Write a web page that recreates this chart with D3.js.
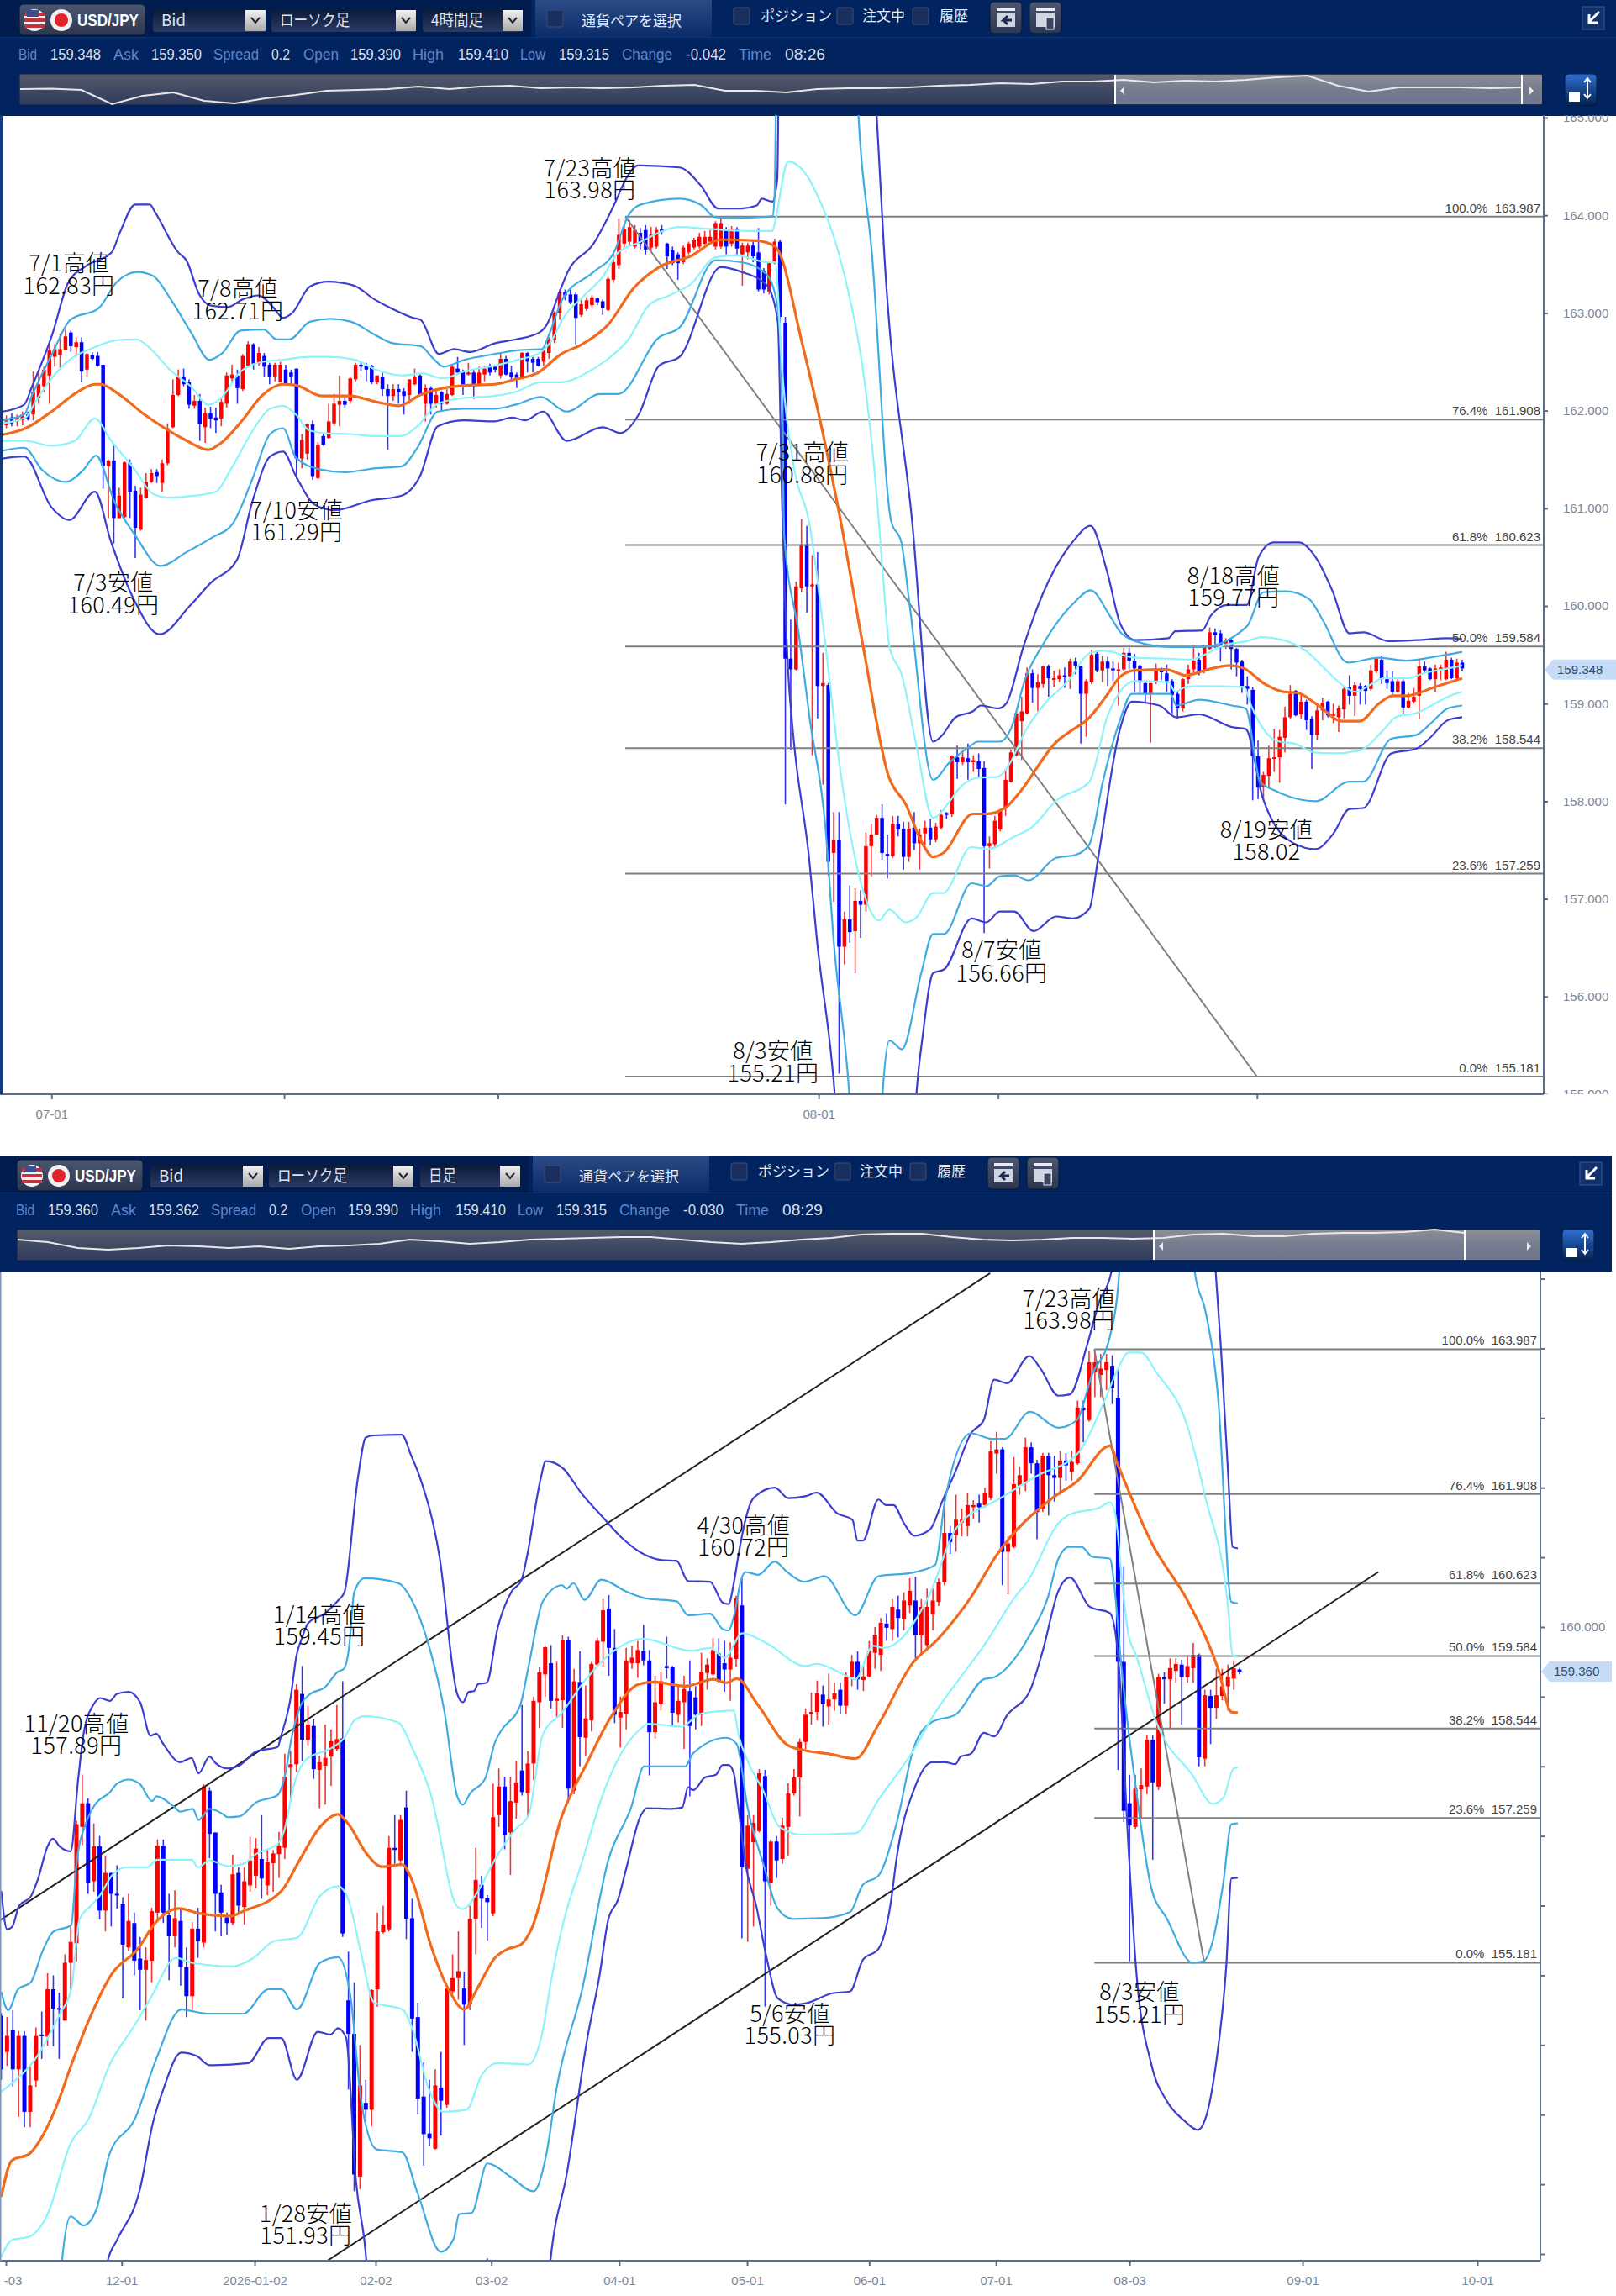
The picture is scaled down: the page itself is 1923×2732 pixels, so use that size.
<!doctype html>
<html>
<head>
<meta charset="utf-8">
<style>
  body { margin: 0; background: #fff; }
  svg { display: block; }
  text { font-family: "Liberation Sans", sans-serif; }
  .note { font-family: "Noto Sans CJK JP", sans-serif; font-size: 27px; fill: #000; text-anchor: middle; letter-spacing: 0.4px; font-weight: 300; }
  .jp { font-family: "Noto Sans CJK JP", sans-serif; }
  .tick text { font-size: 15px; fill: #7a8798; }
  .tick line { stroke: #5d6b8f; stroke-width: 2; }
</style>
<script src="https://d3js.org/d3.v7.min.js"></script>
</head>
<body>
<svg width="1923" height="2732"></svg>
<script>
// ---- 4 hour chart: open, high, low, close per candle
const h4Ohlc = [
[161.82,161.90,161.79,161.87],[161.85,161.95,161.82,161.90],[161.93,161.97,161.84,161.87],[161.89,161.96,161.84,161.93],[161.90,161.99,161.85,161.96],[161.96,161.99,161.90,161.92],
[161.96,162.40,161.90,162.19],[162.13,162.40,162.07,162.27],[162.25,162.45,162.19,162.42],[162.36,162.68,162.07,162.62],[162.55,162.68,162.45,162.63],[162.57,162.79,162.42,162.63],
[162.62,162.83,162.62,162.76],[162.80,162.82,162.60,162.66],[162.65,162.75,162.56,162.70],[162.70,162.75,162.29,162.40],[162.42,162.59,162.35,162.58],[162.57,162.60,162.52,162.53],
[162.56,162.60,162.45,162.46],[162.47,162.47,161.20,161.43],[161.43,161.50,160.90,161.49],[161.49,161.64,160.64,160.90],[160.90,161.21,160.90,161.13],[160.91,161.48,160.90,161.47],
[161.46,161.50,160.90,161.17],[161.18,161.23,160.49,160.80],[160.78,161.21,160.77,161.14],[161.11,161.36,161.10,161.27],[161.27,161.40,161.26,161.36],[161.37,161.40,161.26,161.33],
[161.26,161.50,161.17,161.46],[161.46,161.87,161.44,161.82],[161.83,162.32,161.82,162.16],[162.16,162.42,162.15,162.35],[162.35,162.43,162.25,162.27],[162.29,162.32,162.02,162.06],
[162.05,162.16,162.02,162.10],[162.10,162.17,161.69,161.86],[161.83,162.03,161.67,161.97],[161.97,162.04,161.82,161.92],[161.93,162.03,161.77,161.90],[161.92,162.13,161.84,162.09],
[162.07,162.39,162.03,162.36],[162.33,162.47,162.30,162.37],[162.36,162.42,162.07,162.23],[162.22,162.58,162.20,162.56],[162.46,162.71,162.45,162.68],[162.68,162.69,162.42,162.48],
[162.48,162.65,162.46,162.59],[162.56,162.59,162.35,162.45],[162.47,162.49,162.27,162.35],[162.35,162.49,162.30,162.47],[162.29,162.50,162.29,162.47],[162.42,162.47,162.27,162.27],
[162.39,162.42,162.27,162.35],[162.43,162.43,161.30,161.51],[161.51,161.76,161.41,161.70],[161.56,161.87,161.50,161.86],[161.86,161.90,161.29,161.33],[161.31,161.68,161.30,161.65],
[161.74,161.77,161.64,161.65],[161.72,162.07,161.71,161.89],[161.87,162.17,161.84,162.07],[162.06,162.36,161.84,162.10],[162.10,162.14,162.03,162.06],[162.10,162.35,162.07,162.33],
[162.32,162.49,162.30,162.47],[162.47,162.50,162.40,162.45],[162.46,162.49,162.30,162.42],[162.46,162.47,162.27,162.29],[162.29,162.36,162.27,162.36],[162.35,162.39,162.15,162.22],
[162.22,162.27,161.60,162.15],[162.15,162.27,162.10,162.22],[162.22,162.27,162.07,162.19],[162.20,162.23,161.96,162.15],[162.16,162.32,162.07,162.32],[162.27,162.43,162.26,162.35],
[162.36,162.38,162.16,162.16],[162.07,162.27,161.89,162.23],[162.23,162.25,161.96,162.07],[162.07,162.20,162.03,162.16],[162.19,162.20,161.99,162.07],[162.07,162.22,162.06,162.17],
[162.16,162.46,162.15,162.45],[162.43,162.55,162.37,162.39],[162.40,162.42,162.16,162.27],[162.37,162.49,162.36,162.39],[162.39,162.42,162.12,162.27],[162.27,162.45,162.27,162.39],
[162.37,162.46,162.30,162.43],[162.45,162.48,162.36,162.39],[162.45,162.47,162.39,162.42],[162.36,162.59,162.33,162.53],[162.53,162.56,162.36,162.37],[162.39,162.46,162.32,162.35],
[162.37,162.39,162.23,162.33],[162.33,162.60,162.33,162.59],[162.59,162.60,162.39,162.50],[162.53,162.55,162.39,162.49],[162.53,162.55,162.45,162.46],[162.50,162.63,162.46,162.62],
[162.59,162.75,162.53,162.73],[162.72,163.02,162.69,163.00],[163.00,163.24,162.93,163.21],[163.21,163.24,163.13,163.18],[163.19,163.24,163.09,163.11],[163.19,163.21,162.68,162.95],
[162.98,163.13,162.96,163.09],[163.04,163.16,163.02,163.13],[163.08,163.18,163.06,163.16],[163.15,163.16,163.08,163.11],[163.12,163.14,162.98,163.05],[163.03,163.37,163.02,163.35],
[163.34,163.62,163.31,163.52],[163.49,163.97,163.45,163.80],
[163.71,163.93,163.66,163.86],[163.73,163.95,163.69,163.88],[163.68,163.90,163.66,163.85],[163.82,163.87,163.65,163.71],[163.85,163.90,163.60,163.65],[163.67,163.88,163.63,163.80],
[163.68,163.88,163.66,163.85],[163.86,163.90,163.80,163.83],[163.71,163.72,163.45,163.58],[163.64,163.68,163.49,163.51],[163.60,163.62,163.34,163.51],[163.52,163.69,163.50,163.67],
[163.62,163.73,163.60,163.71],[163.67,163.77,163.65,163.75],[163.68,163.82,163.66,163.78],[163.71,163.84,163.70,163.78],[163.73,163.85,163.70,163.78],[163.68,163.94,163.65,163.92],
[163.68,163.97,163.66,163.92],[163.85,163.88,163.60,163.68],[163.71,163.89,163.68,163.86],[163.86,163.88,163.60,163.66],[163.60,163.72,163.28,163.69],[163.62,163.72,163.55,163.69],
[163.69,163.75,163.52,163.58],[163.62,163.87,163.22,163.24],[163.43,163.46,163.20,163.24],[163.22,163.53,163.19,163.51],[163.51,163.76,163.50,163.73],[163.73,163.75,162.90,162.96],
[162.90,162.96,157.97,159.46],[159.46,159.86,158.52,159.35],[159.35,160.25,159.34,160.20],[160.18,160.89,160.14,160.63],[160.63,160.82,159.93,160.20],[160.20,160.52,158.47,160.22],
[160.22,160.55,158.85,159.18],[159.18,159.52,158.17,159.21],[159.19,159.21,157.24,157.38],[157.47,157.89,156.97,157.60],[157.60,157.89,155.21,156.51],[156.51,156.87,156.33,156.79],
[156.79,157.14,156.55,156.66],[156.67,157.11,156.24,156.98],[156.98,157.09,156.60,156.94],[156.94,157.68,156.87,157.54],[157.54,157.77,157.23,157.66],[157.66,157.86,157.66,157.83],
[157.83,157.97,157.40,157.47],[157.46,157.66,157.21,157.44],[157.44,157.85,157.42,157.77],[157.77,157.85,157.64,157.71],[157.72,157.79,157.30,157.43],[157.43,157.79,157.38,157.72],
[157.73,157.89,157.50,157.57],[157.57,157.72,157.30,157.66],[157.67,157.80,157.55,157.73],[157.73,157.82,157.55,157.61],[157.61,157.78,157.58,157.74],[157.73,157.91,157.71,157.86],
[157.88,157.89,157.82,157.86],[157.87,158.47,157.84,158.46],[158.45,158.57,158.23,158.40],[158.40,158.50,158.37,158.45],[158.44,158.59,158.22,158.40],[158.40,158.47,158.30,158.42],
[158.41,158.49,158.25,158.33],[158.34,158.41,156.65,157.54],[157.54,157.64,157.31,157.57],[157.56,157.85,157.53,157.80],[157.71,157.92,157.69,157.90],[157.93,158.33,157.85,158.22],
[158.20,158.53,158.19,158.50],[158.47,158.92,158.46,158.90],[158.82,159.07,158.42,158.92],[158.90,159.37,158.89,159.31],[159.31,159.35,159.01,159.16],[159.16,159.30,158.92,159.22],
[159.20,159.39,159.16,159.38],[159.38,159.40,159.07,159.26],[159.25,159.34,159.17,159.26],[159.25,159.35,159.22,159.29],[159.29,159.37,159.16,159.28],[159.28,159.46,159.15,159.43],
[159.43,159.47,159.30,159.39],[159.38,159.39,158.59,159.10],[159.10,159.25,158.66,159.23],[159.22,159.55,159.20,159.50],[159.51,159.53,159.32,159.34],[159.34,159.49,159.22,159.43],
[159.43,159.48,159.18,159.36],[159.36,159.43,159.23,159.34],[159.34,159.42,158.98,159.35],[159.35,159.57,159.34,159.52],[159.52,159.57,159.35,159.44],
[159.44,159.51,159.12,159.36],[159.39,159.40,159.11,159.22],[159.21,159.23,159.01,159.10],[159.10,159.21,158.60,159.21],[159.23,159.41,159.20,159.36],[159.36,159.37,159.24,159.32],
[159.31,159.40,159.12,159.23],[159.23,159.25,158.90,159.09],[159.10,159.12,158.84,158.95],[158.95,159.26,158.92,159.25],[159.25,159.40,159.20,159.35],[159.35,159.60,159.32,159.44],
[159.45,159.52,159.29,159.33],[159.33,159.60,159.31,159.58],[159.56,159.78,159.55,159.73],[159.73,159.77,159.57,159.70],[159.72,159.75,159.43,159.58],[159.61,159.67,159.56,159.65],
[159.65,159.67,159.35,159.56],[159.56,159.57,159.28,159.42],[159.43,159.45,159.11,159.18],[159.18,159.28,158.99,159.15],[159.14,159.17,158.01,158.46],[158.46,158.62,158.02,158.14],
[158.15,158.30,158.02,158.27],[158.26,158.57,158.15,158.44],[158.44,158.74,158.30,158.45],[158.45,158.73,158.19,158.66],[158.65,158.97,158.50,158.86],[158.86,159.19,158.84,159.10],
[159.13,159.14,158.87,158.88],[158.89,159.10,158.84,159.02],[159.02,159.04,158.73,158.83],[158.84,158.87,158.33,158.68],[158.68,159.00,158.63,158.93],[158.93,159.06,158.83,159.01],
[159.02,159.03,158.86,158.88],[158.88,159.00,158.80,158.89],[158.86,158.98,158.71,158.95],[158.94,159.17,158.85,159.15],[159.17,159.29,158.99,159.08],[159.08,159.22,158.87,159.19],
[159.18,159.21,158.99,159.15],[159.18,159.19,158.99,159.13],[159.15,159.40,159.13,159.34],[159.33,159.47,159.31,159.46],[159.45,159.49,159.20,159.25],[159.25,159.34,159.15,159.21],
[159.23,159.33,159.08,159.12],[159.12,159.27,159.11,159.23],[159.23,159.25,158.89,158.96],[158.96,159.11,158.95,159.03],[159.02,159.16,159.00,159.07],[159.08,159.45,158.84,159.38],
[159.38,159.43,159.31,159.34],[159.36,159.37,159.24,159.25],[159.25,159.40,159.12,159.36],[159.35,159.40,159.24,159.37],[159.25,159.53,159.24,159.45],[159.45,159.47,159.25,159.26],
[159.26,159.46,159.25,159.42],[159.42,159.45,159.33,159.36]
];
// band curves as [candle index, price]
const h4Mid = [[0,161.75],[4.6,161.82],[9.4,161.99],[14.2,162.19],[17.5,162.27],[18.5,162.27],[21.9,162.17],[26.7,161.96],[30.5,161.82],[34.3,161.70],[38.6,161.60],[41,161.67],[44.9,161.90],[48.7,162.16],[52.5,162.27],[54.9,162.26],[59.7,162.15],[65,162.15],[69.8,162.09],[74.1,162.05],[78,162.16],[82.3,162.23],[87.1,162.26],[91.9,162.27],[95.7,162.32],[100,162.39],[104.3,162.58],[108.2,162.68],[113,162.88],[117.7,163.25],[122.5,163.47],[128.3,163.58],[134,163.75],[140.8,163.74],[144.1,163.68],[149.3,162.65],[156.3,160.87],[160.5,159.58],[165.2,158.26],[168.4,157.97],[171.5,157.57],[173.5,157.43],[175.4,157.47],[180.9,157.87],[183.4,157.87],[187.1,157.94],[189.6,158.09],[196.5,158.61],[199.7,158.74],[202.1,158.83],[205.9,159.09],[208.4,159.28],[211.1,159.34],[216.9,159.35],[220.5,159.29],[224.7,159.35],[228.8,159.39],[231.4,159.36],[235,159.21],[238.8,159.12],[241.3,159.11],[245,158.99],[249.7,158.82],[252.9,158.82],[256.5,159.00],[259.1,159.08],[261.6,159.08],[266.9,159.17],[272,159.26]];
const h4Up1 = [[0,161.87],[4.6,161.93],[6.5,162.10],[9.4,162.33],[12.3,162.50],[17.5,162.65],[21.4,162.72],[25.2,162.73],[28.1,162.62],[31.4,162.42],[35.3,162.25],[38.6,162.06],[41,162.13],[44.4,162.39],[48.7,162.50],[52.5,162.52],[57.3,162.55],[61.2,162.55],[65.9,162.52],[69.8,162.42],[74.6,162.36],[78.4,162.38],[82.3,162.33],[86.1,162.40],[91.9,162.46],[96.2,162.52],[100.5,162.60],[102.4,162.71],[104.8,162.96],[108.2,163.16],[112,163.37],[114.9,163.62],[118.7,163.72],[126.3,163.88],[132,163.86],[138.8,163.84],[143.6,163.84],[144,163.91],[146.5,164.55],[150.1,164.40],[152,164.20],[154,163.94],[155.9,163.62],[163.4,160.87],[164.2,160.29],[165.4,159.58],[167.7,159.29],[170.4,158.57],[173.5,157.83],[176.6,158.0],[178.2,158.12],[181.8,158.24],[185.6,158.25],[187.6,158.37],[190.7,158.72],[194.3,159.00],[198.6,159.23],[202.8,159.52],[205.3,159.54],[211.1,159.47],[217.3,159.46],[221.6,159.45],[223.6,159.49],[227.8,159.60],[231.9,159.64],[234.6,159.68],[240.3,159.62],[242.9,159.54],[247.1,159.32],[250.2,159.17],[252.2,159.12],[255.4,159.21],[257.3,159.26],[261.6,159.26],[265.4,159.32],[268.5,159.35],[272,159.39]];
const h4Up2 = [[0,161.90],[4.3,161.96],[5.8,162.16],[9.6,162.59],[12.9,162.93],[18.2,163.05],[21.6,163.32],[25.4,163.42],[28.3,163.38],[31.6,163.14],[35.5,162.79],[38.8,162.52],[41.2,162.59],[44.6,162.82],[48.9,162.83],[51.3,162.73],[53.7,162.73],[57.5,162.91],[61.4,162.94],[65.2,162.91],[69.5,162.78],[72.9,162.69],[78.1,162.66],[80.5,162.53],[82.4,162.45],[86.3,162.52],[92,162.58],[96.4,162.62],[100.7,162.63],[102.1,162.79],[104.5,163.14],[110.3,163.42],[114.1,163.62],[116.7,163.99],[119.1,164.11],[126.3,164.17],[130.2,164.11],[133,163.98],[136.9,163.97],[140.7,163.98],[143.6,163.99],[144,164.20],[144.8,168],[157.5,168],[159.6,165.03],[162.1,163.62],[165.7,160.87],[167.6,160.65],[169.1,160.03],[173.5,158.22],[176.6,158.40],[180.3,158.56],[181.8,158.61],[186,158.61],[187.9,158.73],[190.7,159.26],[193.9,159.60],[199.7,160.03],[202.8,160.16],[206.4,159.90],[208.4,159.73],[211.1,159.64],[217.8,159.58],[223.6,159.58],[231.9,159.79],[235,160.14],[239.2,160.15],[243.5,160.07],[246,159.86],[250.7,159.42],[256.5,159.47],[261.6,159.44],[266.9,159.48],[272,159.53]];
const h4Up3 = [[0.3,161.99],[4.3,162.06],[5.8,162.25],[9.6,162.79],[12.5,163.31],[15.8,163.48],[20.6,163.62],[22.1,163.82],[25,164.11],[27.7,164.11],[28.7,164.03],[33,163.62],[34.5,163.54],[36.9,163.19],[38.8,163.08],[42.2,163.06],[45,163.14],[47.9,163.18],[50.8,163.05],[52.5,162.95],[54.2,163.0],[57.5,163.27],[60.9,163.32],[65.7,163.28],[69.5,163.14],[72.9,163.04],[76.7,162.95],[78.1,162.93],[81.5,162.58],[84.4,162.63],[87.2,162.60],[92,162.69],[95.9,162.73],[100.2,162.80],[101.6,162.88],[104,163.22],[105.5,163.42],[110.3,163.71],[112.9,163.97],[114.4,164.14],[116.3,164.37],[118.6,164.51],[126.3,164.49],[130.2,164.31],[133.5,164.07],[137.8,164.07],[140.7,164.10],[141.6,164.17],[143.6,164.14],[144.5,164.37],[145.2,168],[158.6,168],[163,165.03],[164.4,163.62],[169.6,160.87],[173.5,158.61],[175.1,158.67],[177.7,158.86],[180.9,158.92],[182.4,158.98],[185.6,158.95],[187.1,159.00],[190.3,159.58],[193.9,160.12],[199.7,160.67],[202.8,160.82],[205.9,160.35],[208.4,159.81],[211.1,159.65],[217.3,159.67],[218.6,159.74],[223.6,159.75],[225.2,159.90],[228.3,160.01],[231.9,160.01],[234.1,160.50],[236.9,160.65],[241.6,160.65],[244.7,160.50],[247.8,160.16],[251,159.72],[253.6,159.73],[258.3,159.64],[263.5,159.65],[269.3,159.67],[272,159.66]];
const h4Low1 = [[0.3,161.69],[4.6,161.69],[9.4,161.64],[13.7,161.69],[17.5,161.92],[20.4,161.70],[24.7,161.41],[28.5,161.14],[31,161.11],[36.2,161.13],[40,161.17],[42.9,161.41],[46.8,161.79],[50.1,162.02],[52.5,162.05],[54.9,161.96],[57.3,161.80],[60.2,161.77],[65,161.76],[69.8,161.74],[74.6,161.74],[77.5,161.84],[81.3,162.07],[86.1,162.13],[91.9,162.15],[95.7,162.19],[100.5,162.29],[104.3,162.29],[109.1,162.39],[113,162.53],[116.8,162.73],[120.6,163.08],[124.4,163.18],[128.3,163.29],[133,163.57],[136.9,163.59],[142.6,163.52],[144.1,163.52],[145.4,162.42],[147.7,161.39],[150.4,160.87],[153.2,159.72],[156.3,158.29],[160.5,157.08],[163.4,156.78],[165.4,156.89],[168.4,156.76],[170.4,156.81],[173.5,157.06],[175.4,157.06],[180.6,157.53],[183.7,157.51],[188.7,157.64],[191.8,157.73],[196.5,158.01],[202.6,158.20],[205.9,158.86],[209,159.17],[211.1,159.23],[217.3,159.22],[218.6,159.12],[220.5,159.17],[223.6,159.18],[231.4,159.17],[232.7,158.98],[235.7,158.69],[238,158.61],[240.8,158.59],[244.4,158.50],[248.2,158.49],[252.9,158.52],[257.5,158.74],[259.6,158.86],[263.8,158.91],[266.9,159.00],[270.2,159.09],[272,159.12]];
const h4Low2 = [[0.3,161.59],[4.3,161.62],[7.7,161.39],[12,161.27],[15.3,161.39],[17.7,161.54],[21.1,161.07],[24.9,160.73],[29.7,160.41],[34.5,160.55],[39.3,160.70],[43.1,160.84],[46.8,161.30],[50.1,161.76],[52.5,161.82],[54.9,161.52],[59.2,161.40],[64,161.37],[69.8,161.41],[74.6,161.43],[77.5,161.62],[81.3,161.99],[86.1,162.02],[91.9,162.02],[95.7,162.06],[100.5,162.14],[105.3,161.99],[111.5,162.17],[114.9,162.17],[122.5,162.75],[126.3,162.85],[133,163.54],[137.9,163.52],[142.6,163.39],[144.6,163.05],[145.5,161.79],[145.8,160.72],[148.5,159.72],[150.5,158.86],[153.5,157.71],[155,156.57],[157.9,155],[159,154],[163.5,154],[164.1,155],[165.4,155.55],[167.7,155.46],[171.3,156.24],[173.5,156.64],[175.5,156.64],[180.7,157.16],[183.4,157.13],[185.9,157.23],[188.6,157.24],[191.2,157.19],[196.4,157.42],[200,157.45],[202.6,157.56],[205.1,158.20],[208.3,158.83],[210.5,159.10],[217.7,159.10],[218.8,158.98],[223,159.04],[229.1,158.98],[231.7,158.95],[234.4,158.20],[237.5,158.10],[244.7,158.0],[251,158.20],[253.6,158.20],[258.8,158.64],[263.5,158.68],[266.2,158.80],[269.3,158.95],[272,158.98]];
const h4Low3 = [[0.3,161.51],[4.3,161.53],[9.4,161.01],[12.7,160.88],[17.5,161.17],[20.4,160.67],[24.7,160.07],[29.5,159.71],[35.3,160.01],[39.1,160.24],[43.9,160.47],[46.8,161.07],[50.1,161.53],[52.5,161.58],[54.9,161.33],[58.3,161.04],[62.1,160.98],[68.8,161.08],[74.6,161.13],[78,161.33],[81.3,161.84],[86.1,161.90],[91.9,161.89],[95.2,161.93],[97.6,161.90],[100.9,161.99],[105.3,161.69],[112,161.83],[115.3,161.77],[118.7,161.96],[122.5,162.46],[126.3,162.55],[134,163.47],[137.9,163.42],[142.6,163.28],[144.6,162.91],[145.4,161.04],[146.5,159.35],[147.4,158.72],[150.4,157.43],[151.9,156.57],[155.2,155],[157,153.5],[169,153.5],[170.4,155],[171.6,155.61],[173.5,156.24],[175.6,156.28],[180.7,156.80],[183.4,156.76],[185.9,156.87],[188.6,156.87],[192.2,156.67],[196.4,156.82],[199.5,156.80],[202.6,156.90],[204.2,157.41],[208.3,158.74],[210.5,159.02],[215.6,158.98],[218.8,158.86],[223,158.89],[229.1,158.76],[231.7,158.74],[234.9,158.03],[240.6,157.57],[244.7,157.51],[247.9,157.66],[251,157.92],[253.6,157.93],[258.8,158.49],[263.5,158.54],[266.2,158.66],[269.3,158.83],[272,158.86]];
const h4Swing = [[116.2,163.987],[233.8,155.181]];
const h4TickIdx = [9.4,52.7,92.5,152.2,185.6,233.8];
const h4TickText = ["07-01","","","08-01","",""];

// ---- daily chart
const dayOhlc = [
[154.42,154.46,153.50,153.65],[153.90,154.40,153.70,154.13],[154.21,154.50,153.40,153.65],[153.65,154.20,152.97,154.13],[154.13,154.20,152.82,153.04],[153.04,153.70,152.82,153.42],[153.49,154.25,153.40,154.13],
[154.15,154.48,153.80,154.13],[154.12,155.03,153.99,154.80],[154.80,155.00,153.98,154.52],[154.53,154.75,153.80,154.51],[154.35,155.30,154.35,155.18],[155.18,155.70,154.80,155.48],[155.46,157.22,155.20,157.17],
[157.13,157.88,156.87,157.47],[157.47,157.54,156.17,156.33],[156.35,157.18,156.20,156.85],[156.85,157.00,155.80,155.93],[155.93,156.72,155.63,156.47],[156.47,156.47,155.70,156.17],[156.17,156.58,155.96,156.15],
[156.03,156.12,154.67,155.44],[155.40,156.17,155.35,155.78],[155.75,155.90,155.00,155.21],[155.24,155.55,154.50,155.08],[155.08,155.40,154.35,155.22],[155.21,155.97,154.90,155.92],[155.90,156.95,155.80,156.86],
[156.86,156.95,155.75,155.90],[155.86,156.17,154.93,155.56],[155.56,156.22,155.40,155.82],[155.78,155.97,154.85,155.12],[155.12,155.40,154.40,154.70],[154.70,155.76,154.50,155.67],[155.67,155.97,155.25,155.49],
[155.47,157.74,155.40,157.71],[157.65,157.70,156.68,157.03],[157.05,157.05,155.63,156.17],[156.19,156.30,155.56,155.90],[155.83,155.90,155.58,155.75],[155.75,156.73,155.72,156.45],[156.47,156.55,155.90,156.00],
[155.98,156.55,155.73,156.35],[156.29,156.99,156.20,156.65],[156.43,156.97,156.25,156.82],[156.67,157.30,156.10,156.39],[156.29,156.80,156.15,156.63],[156.61,156.80,156.20,156.75],[156.74,157.06,156.40,156.86],
[156.83,158.18,156.67,157.85],[157.98,158.22,157.50,158.03],[158.03,159.18,157.92,159.10],[159.04,159.44,158.07,158.38],[158.38,158.87,158.30,158.60],[158.58,158.68,157.82,157.96],[157.95,158.15,157.40,158.06],
[158.01,158.60,157.45,158.12],[158.14,158.53,157.72,158.36],[158.25,158.88,158.22,158.39],[158.40,159.22,155.55,155.60],[154.64,155.34,153.36,154.16],[154.16,154.90,151.90,152.14],[152.11,154.00,151.93,153.42],
[153.17,153.50,152.90,153.07],[153.07,154.80,152.83,154.79],[154.80,155.90,154.55,155.63],[155.62,156.00,155.60,155.73],[155.66,157.00,155.63,156.83],[156.83,157.30,156.60,156.80],[156.65,157.30,156.60,157.23],
[157.41,157.65,155.52,155.81],[155.82,156.10,153.90,154.38],[154.40,154.61,153.00,153.23],[153.26,153.75,152.27,152.72],[152.73,153.50,152.55,152.66],[152.51,153.65,152.50,153.42],[153.39,153.90,152.70,153.20],
[153.14,154.83,153.10,154.81],[154.77,155.30,154.73,154.96],[154.96,155.63,154.65,155.06],[154.81,155.05,154.00,154.58],[154.58,156.00,154.50,155.81],[155.81,156.83,155.30,156.37],[156.30,156.43,155.68,156.10],
[156.11,156.15,155.50,156.05],[155.89,157.75,155.85,157.27],[157.30,157.97,157.13,157.71],[157.71,157.85,156.81,157.02],[157.05,157.85,156.44,157.50],[157.48,158.08,157.25,157.77],[157.94,158.88,157.58,157.63],
[157.61,158.22,157.27,158.04],[158.04,159.00,157.80,158.94],[158.92,159.42,158.55,159.35],[159.32,159.73,159.00,159.71],[159.48,159.74,158.83,158.94],[158.94,159.50,158.70,158.97],[158.95,159.88,158.55,159.81],
[159.81,159.86,157.48,157.68],[157.65,159.40,157.60,159.22],[159.21,159.65,158.00,158.42],[158.41,159.16,158.15,158.69],[158.66,159.50,158.50,159.47],[159.46,159.85,159.43,159.80],[159.79,160.40,159.43,160.24],
[160.26,160.46,159.30,159.70],[159.70,159.97,158.62,158.74],[158.70,159.00,158.27,158.78],[158.75,159.70,158.53,159.52],[159.48,159.73,159.40,159.56],[159.48,159.80,159.27,159.67],[159.66,160.03,159.45,159.52],
[159.52,159.67,157.87,158.49],[158.49,159.30,158.40,158.92],[158.90,159.36,158.80,159.22],[159.44,159.86,159.26,159.41],[159.42,159.44,158.58,158.77],[158.74,159.15,158.63,158.94],[158.92,159.30,158.25,159.11],
[159.08,159.52,157.57,158.58],[158.99,159.15,158.53,158.74],[158.74,159.63,158.58,159.36],[159.34,159.55,159.10,159.46],[159.32,159.84,159.30,159.67],[159.62,159.84,159.20,159.22],[159.48,159.80,159.07,159.39],
[159.39,159.78,158.94,159.56],[159.54,160.45,159.43,160.41],[160.31,160.70,155.53,156.55],[156.53,157.30,155.48,157.15],[156.91,157.30,155.70,157.19],[157.07,157.96,157.05,157.90],[157.86,157.95,154.55,156.35],
[156.33,156.95,156.00,156.92],[156.92,157.00,156.40,156.65],[156.67,157.26,156.60,157.15],[157.13,157.76,156.72,157.61],[157.61,157.96,157.58,157.84],[157.84,158.40,157.28,158.35],[158.35,158.83,158.25,158.74],
[158.75,159.06,158.60,158.78],[158.78,159.23,158.66,159.05],[159.03,159.16,158.57,158.89],[158.86,159.33,158.60,158.96],[158.96,159.20,158.80,159.05],[159.10,159.20,158.75,158.87],[158.87,159.35,158.75,159.28],
[159.28,159.60,159.15,159.50],[159.50,159.65,159.10,159.25],[159.24,159.45,159.08,159.29],[159.29,159.80,159.28,159.66],[159.63,160.00,159.40,159.89],[159.60,160.13,159.37,160.06],[160.05,160.20,159.80,159.99],
[159.97,160.40,159.80,160.29],[160.25,160.45,159.85,160.13],[160.11,160.50,159.95,160.38],[160.31,160.70,160.20,160.52],[160.38,160.72,159.55,159.88],[159.88,160.40,159.60,160.29],[159.74,160.55,159.67,160.29],
[160.18,160.55,159.95,160.38],[160.36,160.70,160.30,160.64],[160.64,161.90,160.60,161.35],[161.35,161.45,161.05,161.22],[161.32,161.90,161.08,161.54],[161.50,161.70,161.30,161.54],[161.45,161.93,161.30,161.75],
[161.72,161.82,161.55,161.75],[161.77,161.90,161.50,161.72],[161.75,162.00,161.72,161.93],[161.86,162.67,161.82,162.52],[162.49,162.80,162.20,162.55],[162.55,162.58,160.60,161.08],[161.08,161.30,160.47,161.20],
[161.15,162.44,161.13,162.05],[162.03,162.30,161.90,162.18],[162.07,162.72,161.95,162.58],[162.58,162.65,162.20,162.35],[162.35,162.40,161.26,161.65],[161.70,162.50,161.65,162.46],[162.46,162.50,161.60,162.18],
[162.18,162.46,161.80,162.14],[162.14,162.53,161.90,162.39],[162.39,162.50,162.10,162.32],[162.23,162.53,162.10,162.37],[162.35,163.25,162.33,163.15],[163.15,163.25,162.65,163.11],[162.97,163.96,162.95,163.80],
[163.66,163.94,163.30,163.80],[163.62,163.92,163.30,163.71],[163.69,163.92,163.40,163.80],[163.75,163.90,163.20,163.43],[163.29,163.71,157.95,159.50],[159.50,160.87,157.20,157.36],[157.47,157.88,155.20,157.15],
[157.13,157.88,157.10,157.68],[157.67,157.97,157.26,157.73],[157.71,158.45,157.60,158.38],[158.38,158.45,156.66,157.77],[157.71,159.33,157.66,159.28],[159.28,159.35,158.90,159.25],[159.25,159.55,158.55,159.41],
[159.37,159.55,159.20,159.47],[159.46,159.53,158.60,159.28],[159.28,159.60,159.20,159.44],[159.41,159.77,159.20,159.60],[159.60,159.62,158.00,158.13],[158.11,159.10,158.00,159.02],[159.01,159.10,158.32,158.84],
[158.84,159.40,158.68,159.02],[159.01,159.40,158.95,159.15],[159.15,159.46,158.80,159.29],[159.26,159.52,159.10,159.41],[159.39,159.41,159.32,159.36]
];
const dayMid = [[0,151.82],[1.8,152.34],[4.9,152.44],[7.1,152.69],[9.3,153.07],[12.4,153.78],[15.1,154.35],[19.1,155.02],[23.6,155.38],[26.7,155.76],[30.7,155.96],[34.2,155.89],[39.6,155.85],[41.8,155.92],[48.4,156.21],[51.6,156.66],[55.1,157.13],[58.2,157.31],[60,157.17],[63.1,156.75],[65.8,156.56],[69.3,156.59],[71.1,156.34],[74.2,155.44],[77.3,154.8],[80,154.51],[82.2,154.8],[85.3,155.25],[87.6,155.38],[89.8,155.44],[91.6,155.66],[96.9,157.29],[101.3,158.06],[105.3,158.7],[110.2,159.18],[112.9,159.21],[118.2,159.15],[123.1,159.25],[125.3,159.2],[127.1,159.26],[130.7,158.89],[136,158.3],[139.4,158.22],[143,158.18],[147.6,158.11],[151.6,158.6],[157.4,159.47],[161.8,159.82],[167.6,160.43],[172,161.03],[181.8,161.86],[185.9,162.09],[191.6,162.6],[193,162.32],[198.8,161.21],[205.2,160.35],[210.3,159.4],[212.6,158.78],[213.7,158.77]];
const dayUp1 = [[0,153.33],[4.4,153.65],[5.8,153.79],[10.1,154.44],[12.1,154.8],[13.5,155.8],[15.5,156.0],[16.9,156.13],[19.3,156.45],[21.7,156.55],[25.1,156.55],[27,156.66],[32.9,156.66],[34,156.55],[36,156.65],[39.1,156.57],[41.5,156.59],[44.2,156.75],[47.8,156.89],[48.8,157.05],[50.7,157.77],[52.7,158.1],[57,158.26],[59.4,158.42],[61,158.66],[62.8,158.72],[68.6,158.63],[71.1,158.25],[74.2,157.61],[78.8,155.99],[79.8,155.95],[82.2,156.18],[85.3,156.66],[88.9,157.1],[91.1,157.29],[93.6,158.46],[96.9,158.77],[100.4,159.18],[104.2,159.54],[110.9,159.83],[119.2,159.66],[122.5,159.7],[125,159.56],[128.1,159.91],[132.2,159.77],[139,159.44],[140.9,159.47],[145.8,159.31],[147.6,159.25],[150.7,159.73],[152.5,159.7],[160.5,160.48],[164.9,161.4],[172.9,161.86],[179.2,162.18],[185.9,162.48],[190.7,163.25],[193,163.71],[194.8,163.94],[197,163.94],[199.6,163.66],[205,162.88],[208.1,161.86],[212,160.3],[212.8,159.6],[213.7,159.57]];
const dayUp2 = [[0,154.76],[1.2,154.5],[2.9,154.8],[5.1,154.9],[7.2,155.36],[8.9,155.62],[12.1,155.72],[13,156.6],[14.7,157.2],[16.2,157.45],[18.8,157.63],[20,157.75],[22,157.81],[23.9,157.75],[26.1,157.5],[26.8,157.57],[30,157.41],[30.9,157.35],[33.1,157.39],[34.1,157.23],[36,157.39],[38.2,157.32],[39.1,157.27],[41.1,157.28],[44,157.48],[47.8,157.59],[49,157.86],[50.2,158.42],[51.9,158.9],[53.1,159.02],[56,159.14],[58.2,159.36],[59.2,159.4],[60.1,159.7],[61,160.5],[62.8,160.7],[68.6,160.63],[70.8,160.41],[73.7,159.79],[76.6,158.78],[78.8,157.57],[79.8,157.45],[81,157.61],[83.6,157.82],[85.3,158.34],[86.3,158.5],[89.7,158.88],[91.1,159.42],[93.6,160.37],[96.9,160.6],[97.7,160.55],[98.9,160.63],[100.8,160.39],[103.7,160.68],[108,160.51],[111.4,160.41],[116.7,160.37],[118.7,160.17],[122.5,160.19],[124.7,159.97],[125.7,159.95],[126.6,160.15],[127.9,160.69],[128.6,160.79],[130.8,160.75],[133.7,160.94],[135.8,160.79],[138.7,160.65],[140.6,160.69],[142.2,160.73],[147.6,160.17],[151.6,160.73],[157.4,160.78],[161.4,160.89],[163.1,161.82],[167.6,162.78],[171.2,162.7],[173.4,162.7],[177.8,163.09],[182.7,162.86],[185.9,162.97],[188.5,163.62],[191.6,164.17],[193.2,165.08],[194,168],[205,168],[206.3,165.08],[208.1,164.54],[210.3,163.29],[212.6,160.36],[213.7,160.34]];
const dayUp3 = [[0,156.21],[1,155.66],[1.9,155.7],[3.1,156.0],[5.1,156.13],[6.3,156.37],[8,156.85],[8.9,156.96],[10.1,156.85],[12,156.78],[13.3,157.82],[14.3,158.5],[15.9,158.88],[17.1,158.98],[18.8,158.94],[20,159.04],[22,159.07],[24,158.92],[25.8,158.44],[26.8,158.47],[28,158.32],[30.9,158.06],[32.9,158.12],[34.1,157.9],[36,158.14],[37,158.05],[39.1,157.97],[41.1,158.01],[44,158.21],[47.8,158.28],[48.3,158.42],[50,158.98],[51,159.58],[52,159.85],[53,160.05],[56,160.2],[58.2,160.38],[59.3,160.5],[61.6,162.12],[63,162.72],[64.3,162.75],[69.2,162.76],[70.9,162.45],[72.3,162.16],[75.7,161.03],[78.8,159.04],[79.8,158.92],[80.8,159.07],[81.7,159.08],[82.4,159.18],[83.9,159.2],[85.8,159.99],[88.2,160.51],[89.9,160.67],[90.9,161.03],[93.2,162.12],[94.1,162.38],[97.2,162.27],[98.5,162.13],[100,161.95],[103.7,161.6],[107,161.3],[111.4,161.03],[114.1,160.96],[116.7,160.95],[118.7,160.66],[122.5,160.65],[124.7,160.35],[125.7,160.33],[126.6,160.63],[127.4,161.03],[128.5,161.5],[130,161.85],[133.7,162.0],[136,161.85],[139.1,161.88],[140.9,161.93],[144.5,161.63],[147.1,161.54],[148,161.24],[148.9,161.24],[151.6,161.83],[152.9,161.75],[154.2,161.75],[156,161.49],[157.8,161.31],[160.5,161.4],[162.7,161.82],[164.9,162.23],[167.6,162.78],[169.8,162.97],[171.6,163.55],[173.8,163.5],[177.7,163.89],[179.6,163.71],[182.7,163.32],[184.7,163.34],[187.6,164.03],[189.8,164.68],[191.8,165.08],[195,168],[205,168],[209.9,165.08],[210.8,163.99],[212.1,162.09],[212.8,161.15],[213.7,161.13]];
const dayLow1 = [[0,150.96],[1.8,151.2],[4.9,151.25],[8,151.57],[12,152.59],[15.1,152.94],[18.7,153.71],[23.1,154.29],[25.8,154.67],[30.2,155.25],[32.9,155.18],[40,155.13],[43.6,155.25],[47.1,155.49],[51.1,155.54],[55.1,156.14],[58.2,156.28],[60,156.08],[62.2,155.31],[64.4,154.61],[69.3,154.51],[71.1,154.22],[73.8,153.39],[76.4,153.04],[80.4,153.07],[83.1,153.58],[85.8,153.74],[91.1,153.72],[93.3,154.1],[95.2,155.0],[96.9,155.68],[100.3,156.61],[104.2,157.65],[110.5,158.54],[111.9,158.61],[117.7,158.57],[118.7,158.62],[120.6,158.75],[126.6,158.8],[127.4,158.46],[129.3,158.02],[131.7,157.65],[134.1,157.17],[135.8,157.07],[138,157.02],[147.6,157.04],[151.6,157.52],[157.8,158.25],[161.4,158.77],[165.8,159.28],[169.8,159.73],[175.2,160.43],[177.4,160.66],[182.7,161.49],[184.5,161.61],[189.9,161.72],[191.6,161.79],[192.5,161.63],[193.9,160.48],[194.8,159.9],[196.1,159.6],[199.6,158.64],[205.9,157.87],[209.4,157.46],[211.2,157.55],[213,157.97],[213.7,157.98]];
const dayLow2 = [[9,148],[10.5,150.9],[12,151.54],[14.2,151.41],[16.4,151.63],[18.7,152.43],[23.1,152.94],[26.7,153.78],[31.1,154.51],[35.6,154.45],[41.8,154.45],[46.2,154.8],[48.4,154.8],[51.1,154.51],[55.1,155.18],[58.2,155.26],[60.4,154.67],[62.2,153.2],[64.9,152.5],[69.3,152.46],[72,151.86],[76,151.03],[78.2,151.22],[79.1,151.57],[81.3,151.59],[84,152.3],[88,152.11],[92,151.9],[94.2,152.43],[96,153.39],[100.4,154.8],[104.9,156.65],[108.9,157.42],[111.1,158.0],[118.2,158.0],[119.6,158.19],[125.3,158.41],[127.1,158.32],[129,157.4],[131.7,156.6],[134.1,155.97],[136.8,155.81],[141.9,155.82],[146.7,155.91],[148.9,156.3],[151.6,156.43],[154.7,157.17],[157.8,158.29],[160.9,158.64],[164.9,158.74],[169.8,159.25],[171.6,159.28],[177.8,159.89],[180.9,160.43],[182.7,160.98],[184.5,161.15],[186.7,161.15],[188.5,161.01],[191.6,160.98],[192.5,160.48],[193.4,159.6],[196.1,157.68],[198.8,156.24],[201.4,155.82],[205.9,155.18],[207.7,155.2],[209.4,155.5],[211.2,156.33],[212.6,157.17],[213.7,157.18]];
const dayLow3 = [[17,148],[18.4,150.9],[20,151.2],[24,151.94],[26.2,152.88],[28,153.36],[31.1,153.89],[33.8,153.84],[36,153.71],[42.7,153.74],[46.2,154.1],[48.4,154.1],[51.1,153.5],[54.7,154.19],[56.9,154.15],[58.2,154.24],[59.6,154.1],[61.3,152.05],[63.1,150.9],[65,148],[82,148],[84,150.93],[85,149],[93,149],[94.9,150.9],[97.8,152.18],[101.3,154.1],[103.4,155.0],[104.9,155.8],[106.6,156.09],[108,156.53],[110.5,157.29],[111.6,157.4],[115.8,157.39],[117.7,157.41],[118.7,157.7],[119.6,157.66],[121.6,157.84],[123.5,157.88],[124.7,158.02],[125.7,158.02],[126.6,157.9],[127.4,157.41],[128.6,156.61],[130.5,155.99],[132.2,155.28],[134.2,154.67],[136.9,154.58],[139.1,154.6],[143.5,154.74],[146.7,154.77],[148.9,155.22],[151.6,155.38],[153.8,156.08],[154.7,156.66],[157.8,157.68],[160.9,158.06],[163.1,158.06],[164.9,158.03],[165.8,158.14],[167.6,158.18],[169.8,158.48],[171.6,158.43],[173.8,158.73],[177.8,159.09],[180,159.66],[182.7,160.52],[184.7,160.71],[188.1,160.29],[191.6,160.2],[193,159.6],[194.8,156.85],[196.1,155.12],[198.8,153.71],[201.4,153.2],[204.5,152.91],[206.8,152.78],[208.1,152.94],[209.9,153.71],[211.7,155.12],[212.6,156.39],[213.7,156.4]];
const daySwing = [[188.9,163.987],[207.9,155.181]];
const dayChannelUp = [[-0.2,155.79],[170.9,165.08]];
const dayChannelLow = [[56.3,150.9],[238,160.79]];
const dayTickIdx = [0.8,20.8,43.8,64.7,84.7,106.8,128.9,150,171.9,195,224.9,255.1];
const dayTickText = ["-03","12-01","2026-01-02","02-02","03-02","04-01","05-01","06-01","07-01","08-03","09-01","10-01"];

// ---- fibonacci levels, same on both charts
const fibPct = ["100.0%","76.4%","61.8%","50.0%","38.2%","23.6%","0.0%"];
const fibVal = [163.987,161.908,160.623,159.584,158.544,157.259,155.181];

// ---- long range strip in the toolbar (height above the strip floor)
const h4Strip = [19,19.5,18,1,11,15,5,2,8,12,17,18,19,22,19,22,23,20,21,20,21,23,24,17,17,15,19,20,20,21,23,24,26,25,28,28,30,27,29,28,30,33,35,23,16,21,21,21,20,21];
const dayStrip = [25,22,15,13,15,18,17,15,17,14,17,18,20,25,23,20,22,25,26,27,28,28,25,22,20,22,25,27,31,32,32,28,25,24,25,27,27,26,27,31,32,29,29,32,33,33,34,37,33];

const quoteLabels = ["Bid","Ask","Spread","Open","High","Low","Change","Time"];
const h4Quote = ["159.348","159.350","0.2","159.390","159.410","159.315","-0.042","08:26"];
const dayQuote = ["159.360","159.362","0.2","159.390","159.410","159.315","-0.030","08:29"];

// text notes: first line, second line, centre x, baselines
const h4Notes = [["7/23高値","163.98円",702,210,236],["7/1高値","162.83円",82,323,350],["7/8高値","162.71円",283,353,380],["7/3安値","160.49円",135,703,730],["7/10安値","161.29円",353,617,643],["7/31高値","160.88円",955,548,575],["8/3安値","155.21円",920,1260,1287],["8/7安値","156.66円",1192,1140,1168],["8/18高値","159.77円",1468,695,721],["8/19安値","158.02",1507,997,1023]];
const dayNotes = [["7/23高値","163.98円",1272,1555,1581],["4/30高値","160.72円",885,1825,1851],["1/14高値","159.45円",380,1931,1957],["11/20高値","157.89円",91,2061,2087],["1/28安値","151.93円",364,2644,2670],["5/6安値","155.03円",940,2406,2432],["8/3安値","155.21円",1356,2380,2407]];

const svg = d3.select("svg");
const defs = svg.append("defs");

function grad(id, stops) {
  const g = defs.append("linearGradient").attr("id", id).attr("x1", 0).attr("x2", 0).attr("y1", 0).attr("y2", 1);
  stops.forEach((c, i) => g.append("stop").attr("offset", i / (stops.length - 1)).attr("stop-color", c));
}
grad("sel", ["#0b1a3a", "#2b3a63"]);
grad("arrow", ["#f2f2f2", "#a9a9a9"]);
grad("btn", ["#4b5670", "#2d3650"]);
grad("strip", ["#565c6c", "#414a63", "#2f3b5e"]);
grad("stripOn", ["#8b8e98", "#767c8e", "#6d768f"]);
grad("panel", ["#2a4b85", "#0b2c68"]);
grad("lock", ["#2f6fd0", "#02204f"]);

function drawToolbar(dx, dy, tf, tfW, quote, strip, selX, handleX, width) {
  const g = svg.append("g").attr("transform", `translate(${dx},${dy})`);
  g.append("rect").attr("width", width).attr("height", 138).attr("fill", "#012460");
  g.append("rect").attr("y", 0).attr("width", 632).attr("height", 44).attr("fill", "#011d50");
  g.append("rect").attr("x", 637).attr("width", 210).attr("height", 44).attr("fill", "url(#panel)");
  g.append("rect").attr("y", 44).attr("width", width).attr("height", 1).attr("fill", "#0d3473");
  // pair button
  g.append("rect").attr("x", 23).attr("y", 5).attr("width", 150).attr("height", 37).attr("rx", 5).attr("fill", "url(#btn)").attr("stroke", "#0a1530");
  g.append("circle").attr("cx", 41).attr("cy", 24).attr("r", 13).attr("fill", "#f4f4f4");
  [15, 22, 29].forEach(y => g.append("rect").attr("x", 29).attr("y", y).attr("width", 24).attr("height", 4).attr("fill", "#c8303c"));
  g.append("rect").attr("x", 32).attr("y", 12).attr("width", 14).attr("height", 8).attr("fill", "#3a4f8c");
  g.append("circle").attr("cx", 73).attr("cy", 24).attr("r", 13).attr("fill", "#f0f0f0");
  g.append("circle").attr("cx", 73).attr("cy", 24).attr("r", 8).attr("fill", "#e0242c");
  g.append("text").attr("x", 92).attr("y", 31).attr("fill", "#fff").attr("font-size", 20).attr("font-weight", "bold")
    .attr("textLength", 73).attr("lengthAdjust", "spacingAndGlyphs").text("USD/JPY");
  // dropdowns
  [[182, 134, "Bid", 29], [323, 172, "ローソク足", 83], [503, 119, tf, tfW]].forEach(d => {
    g.append("rect").attr("x", d[0]).attr("y", 11).attr("width", d[1]).attr("height", 27).attr("rx", 3).attr("fill", "url(#sel)");
    g.append("rect").attr("x", d[0] + d[1] - 24).attr("y", 12).attr("width", 24).attr("height", 25).attr("fill", "url(#arrow)");
    g.append("path").attr("d", `M${d[0] + d[1] - 17},21l5,6l5,-6`).attr("fill", "none").attr("stroke", "#223").attr("stroke-width", 2);
    g.append("text").attr("class", "jp").attr("x", d[0] + 10).attr("y", 31).attr("fill", "#dfe4ee").attr("font-size", 19)
      .attr("textLength", d[3]).attr("lengthAdjust", "spacingAndGlyphs").text(d[2]);
  });
  // check boxes
  [[651, 12], [873, 9], [996, 9], [1086, 9]].forEach(c => {
    g.append("rect").attr("x", c[0]).attr("y", c[1]).attr("width", 19).attr("height", 20).attr("rx", 2).attr("fill", "#1b2f5e").attr("stroke", "#3b507c");
  });
  [[692, 31, "通貨ペアを選択"], [905, 25, "ポジション"], [1026, 25, "注文中"], [1118, 25, "履歴"]].forEach(t => {
    g.append("text").attr("class", "jp").attr("x", t[0]).attr("y", t[1]).attr("fill", "#e8ecf4").attr("font-size", 17).text(t[2]);
  });
  [1178, 1225].forEach((x, n) => {
    g.append("rect").attr("x", x).attr("y", 2).attr("width", 38).attr("height", 38).attr("rx", 5).attr("fill", "url(#btn)").attr("stroke", "#0a1530");
    g.append("rect").attr("x", x + 8).attr("y", 9).attr("width", 22).attr("height", 4).attr("fill", "#e8ecf4");
    g.append("rect").attr("x", x + 8).attr("y", 16).attr("width", 22).attr("height", 16).attr("fill", "#cfd6e2");
    if (n === 0) g.append("path").attr("d", `M${x + 26},24h-10l5,-5M${x + 16},24l5,5`).attr("fill", "none").attr("stroke", "#1b2b50").attr("stroke-width", 3);
    else g.append("rect").attr("x", x + 20).attr("y", 21).attr("width", 9).attr("height", 14).attr("fill", "#3a4660").attr("stroke", "#e8ecf4");
  });
  g.append("rect").attr("x", 1883).attr("y", 8).attr("width", 26).attr("height", 27).attr("fill", "#12316a").attr("stroke", "#3b5a90");
  g.append("path").attr("d", "M1903,14l-12,12M1891,17v10h10").attr("fill", "none").attr("stroke", "#fff").attr("stroke-width", 3);
  // quote line
  const labelX = [22, 135, 254, 361, 491, 619, 740, 879];
  const labelW = [22, 30, 54, 42, 37, 30, 60, 39];
  const valueX = [60, 180, 323, 417, 545, 665, 816, 934];
  const valueW = [60, 60, 22, 60, 60, 60, 48, 48];
  quoteLabels.forEach((t, i) => g.append("text").attr("x", labelX[i]).attr("y", 71).attr("fill", "#5f86c8").attr("font-size", 18)
    .attr("textLength", labelW[i]).attr("lengthAdjust", "spacingAndGlyphs").text(t));
  quote.forEach((t, i) => g.append("text").attr("x", valueX[i]).attr("y", 71).attr("fill", "#d9dfe9").attr("font-size", 18)
    .attr("textLength", valueW[i]).attr("lengthAdjust", "spacingAndGlyphs").text(t));
  // long range strip
  const sx = 23, ex = 1835;
  g.append("rect").attr("x", sx).attr("y", 88).attr("width", ex - sx).attr("height", 37).attr("rx", 2).attr("fill", "url(#strip)").attr("stroke", "#16203f");
  g.append("rect").attr("x", selX).attr("y", 89).attr("width", ex - selX).attr("height", 35).attr("fill", "url(#stripOn)");
  const sxs = d3.scaleLinear().domain([0, strip.length - 1]).range([sx + 1, handleX]);
  const sys = d3.scaleLinear().domain([0, 40]).range([125, 85]);
  g.append("path").datum(strip).attr("fill", "none").attr("stroke", "#e8e8e8").attr("stroke-width", 2)
    .attr("d", d3.line().x((d, i) => sxs(i)).y(d => sys(d)));
  [selX, handleX].forEach(x => g.append("rect").attr("x", x - 1).attr("y", 89).attr("width", 2).attr("height", 35).attr("fill", "#fff"));
  g.append("path").attr("d", `M${selX + 11},103l-5,5l5,5z`).attr("fill", "#eee");
  g.append("path").attr("d", `M${ex - 15},103l5,5l-5,5z`).attr("fill", "#eee");
  // lock button
  g.append("rect").attr("x", 1862).attr("y", 88).attr("width", 38).attr("height", 38).attr("rx", 4).attr("fill", "url(#lock)").attr("stroke", "#011a44");
  g.append("rect").attr("x", 1867).attr("y", 110).attr("width", 13).attr("height", 11).attr("fill", "#fff");
  g.append("path").attr("d", "M1889,94v22M1885,98l4,-5l4,5M1885,112l4,5l4,-5").attr("fill", "none").attr("stroke", "#fff").attr("stroke-width", 2);
}

function drawChart(c) {
  const g = svg.append("g");
  const clipId = "clip" + c.id;
  defs.append("clipPath").attr("id", clipId).append("rect")
    .attr("x", 0).attr("y", c.top).attr("width", c.right).attr("height", c.bottom - c.top);

  const x = d3.scaleLinear().domain([0, c.ohlc.length - 1]).range(c.xRange);
  const y = d3.scaleLinear().domain(c.yDomain).range(c.yRange);
  const plot = g.append("g").attr("clip-path", `url(#${clipId})`);

  // candles
  plot.selectAll(".wick").data(c.ohlc).enter().append("line")
    .attr("x1", (d, i) => x(i)).attr("x2", (d, i) => x(i))
    .attr("y1", d => y(d[1])).attr("y2", d => y(d[2]))
    .attr("stroke", d => d[3] >= d[0] ? "#f01010" : "#1010f0").attr("stroke-width", 1.6).attr("opacity", 0.85);
  plot.selectAll(".body").data(c.ohlc).enter().append("rect")
    .attr("x", (d, i) => x(i) - c.bodyW / 2).attr("width", c.bodyW)
    .attr("y", d => y(Math.max(d[0], d[3])))
    .attr("height", d => Math.max(2, Math.abs(y(d[0]) - y(d[3]))))
    .attr("fill", d => d[3] >= d[0] ? "#ff0000" : "#0000ff");

  // fib levels and swing lines
  fibVal.forEach(v => {
    plot.append("line").attr("x1", x(c.swing[0][0])).attr("x2", c.right)
      .attr("y1", y(v)).attr("y2", y(v)).attr("stroke", "#7f7f7f").attr("stroke-width", 2);
  });
  const ln = d3.line().x(d => x(d[0])).y(d => y(d[1]));
  plot.append("path").datum(c.swing).attr("d", ln).attr("stroke", "#808080").attr("stroke-width", 2).attr("fill", "none");
  (c.channels || []).forEach(ch => plot.append("path").datum(ch).attr("d", ln).attr("stroke", "#222").attr("stroke-width", 2).attr("fill", "none"));

  // bollinger bands
  const band = d3.line().curve(d3.curveMonotoneX).x(d => x(d[0])).y(d => y(d[1]));
  [[c.low3, "#3d3dd0", 2.2], [c.up3, "#3d3dd0", 2.2], [c.low2, "#3fabe3", 2.2], [c.up2, "#3fabe3", 2.2], [c.low1, "#8df3fa", 2.2], [c.up1, "#8df3fa", 2.2], [c.mid, "#f26a1c", 3.2]].forEach(b => {
    plot.append("path").datum(b[0]).attr("d", band).attr("fill", "none").attr("stroke", b[1]).attr("stroke-width", b[2]);
  });

  fibVal.forEach((v, i) => {
    g.append("text").attr("x", c.right - 4).attr("y", y(v) - 5).attr("text-anchor", "end")
      .attr("font-size", 15).attr("fill", "#444")
      .style("white-space", "pre").text(fibPct[i] + "  " + v.toFixed(3));
  });

  // axes
  defs.append("clipPath").attr("id", clipId + "r").append("rect")
    .attr("x", 0).attr("y", c.top).attr("width", 100).attr("height", c.bottom - c.top);
  const yAxis = g.append("g").attr("transform", `translate(${c.right},0)`).attr("clip-path", `url(#${clipId}r)`)
    .call(d3.axisRight(y).tickValues(d3.range(c.yDomain[0], c.yDomain[1] + 1))
      .tickSize(5).tickPadding(18).tickFormat(c.yFormat));
  yAxis.select(".domain").remove();

  const xAxis = g.append("g").attr("transform", `translate(0,${c.bottom})`)
    .call(d3.axisBottom(x).tickValues(c.tickIdx).tickSize(6).tickPadding(12)
      .tickFormat((d, i) => c.tickText[i]));
  xAxis.select(".domain").remove();
  if (c.firstTickDx) xAxis.select(".tick text").attr("dx", c.firstTickDx);

  g.append("line").attr("x1", c.right).attr("x2", c.right).attr("y1", c.top).attr("y2", c.bottom).attr("stroke", "#5d6b8f").attr("stroke-width", 2);
  g.append("line").attr("x1", 0).attr("x2", c.right).attr("y1", c.bottom).attr("y2", c.bottom).attr("stroke", "#5d6b8f").attr("stroke-width", 2);
  g.append("rect").attr("x", 0).attr("y", c.top).attr("width", c.edge).attr("height", c.bottom - c.top).attr("fill", c.edgeFill);

  // last price tag
  const p = c.last, py = y(p);
  g.append("path").attr("d", `M${c.right + 1},${py}l10,-12H${c.tagEnd}v24H${c.right + 11}z`).attr("fill", "#c6dcf6");
  g.append("text").attr("x", c.right + 16).attr("y", py + 5).attr("font-size", 15).attr("fill", "#2d4a6a").text(p.toFixed(3));

  c.notes.forEach(n => {
    g.append("text").attr("class", "note").attr("x", n[2]).attr("y", n[3]).text(n[0]);
    g.append("text").attr("class", "note").attr("x", n[2]).attr("y", n[4]).text(n[1]);
  });
}

drawToolbar(0, 0, "4時間足", 62, h4Quote, h4Strip, 1327, 1811, 1923);
drawChart({
  id: "h4", top: 137, bottom: 1302, right: 1837, edge: 3, edgeFill: "#123a7a",
  xRange: [1.2, 1740], yDomain: [155, 165], yRange: [1302, 140], bodyW: 4.5,
  ohlc: h4Ohlc, mid: h4Mid, up1: h4Up1, up2: h4Up2, up3: h4Up3, low1: h4Low1, low2: h4Low2, low3: h4Low3,
  swing: h4Swing, tickIdx: h4TickIdx, tickText: h4TickText, last: 159.348, tagEnd: 1923,
  yFormat: d => d3.format(".3f")(d), notes: h4Notes
});

drawToolbar(-3, 1375, "日足", 33, dayQuote, dayStrip, 1376, 1746, 1921);
drawChart({
  id: "day", top: 1513, bottom: 2690, right: 1833, edge: 1.5, edgeFill: "#7f93b5",
  xRange: [1.5, 1475], yDomain: [151, 165], yRange: [2682, 1521.5], bodyW: 5, firstTickDx: 8,
  ohlc: dayOhlc, mid: dayMid, up1: dayUp1, up2: dayUp2, up3: dayUp3, low1: dayLow1, low2: dayLow2, low3: dayLow3,
  swing: daySwing, channels: [dayChannelUp, dayChannelLow], tickIdx: dayTickIdx, tickText: dayTickText, last: 159.360, tagEnd: 1918,
  yFormat: d => d === 160 ? "160.000" : "", notes: dayNotes
});
</script>
</body>
</html>
